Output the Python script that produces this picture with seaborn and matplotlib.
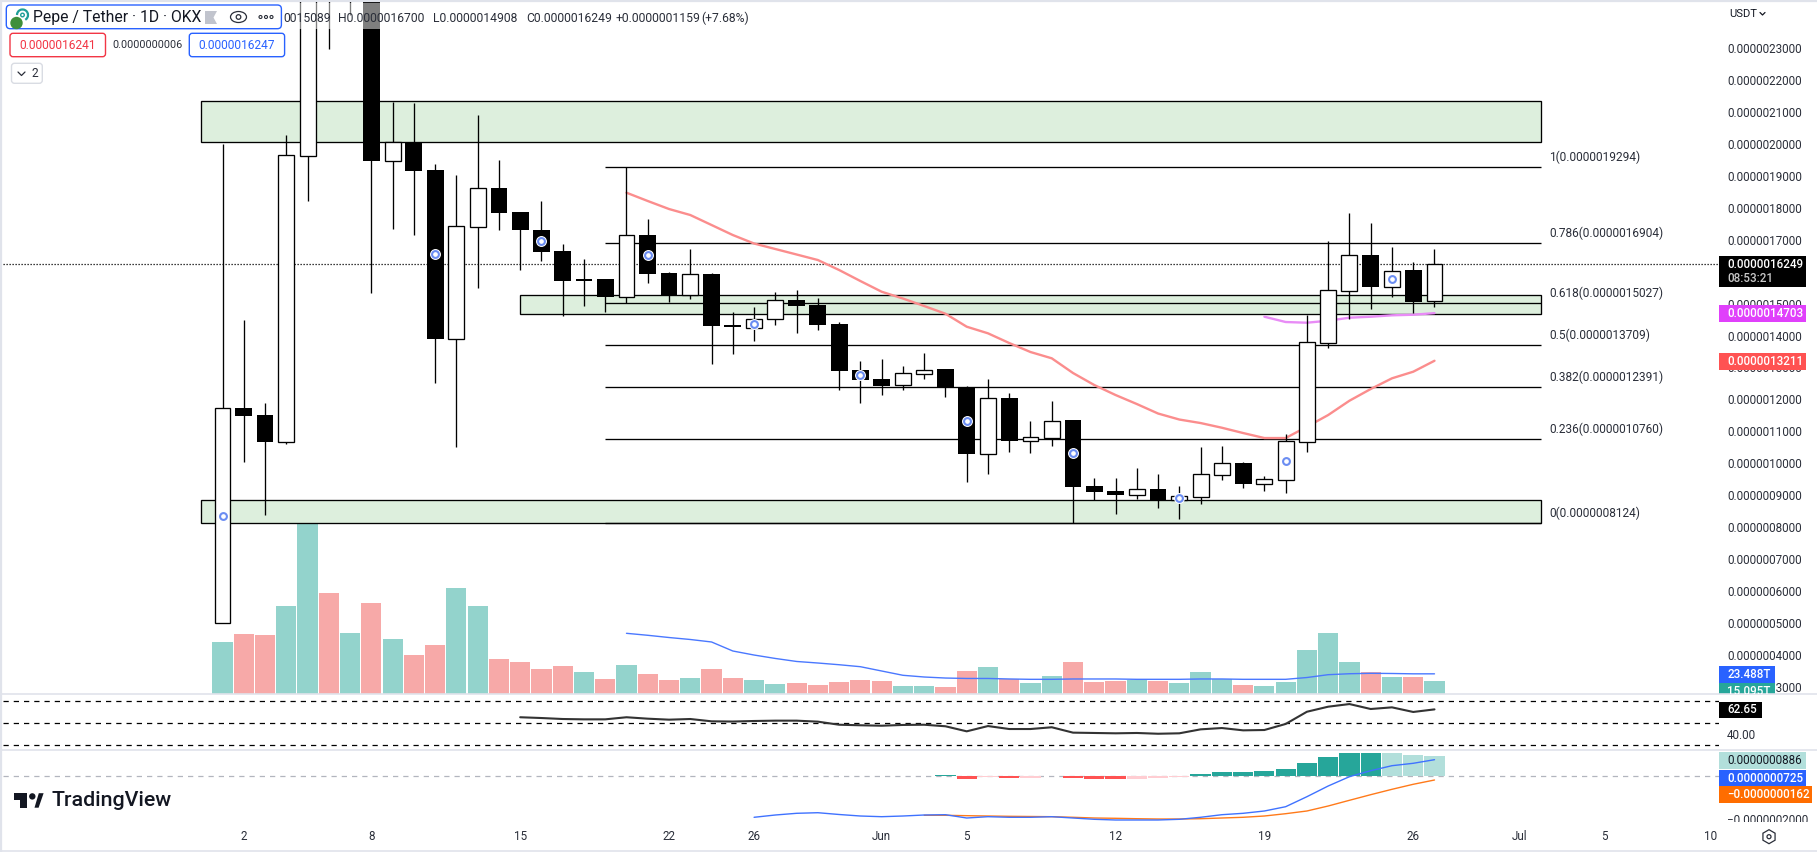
import numpy as np
import pandas as pd
import matplotlib
matplotlib.use("Agg")
import matplotlib.pyplot as plt
from matplotlib.patches import Rectangle, FancyBboxPatch, Circle, Ellipse, Polygon, RegularPolygon, Arc
from matplotlib.transforms import Bbox, TransformedBbox
import seaborn as sns

# ---- data: prices in units of 1e-7 USDT, first candle is 1 May ----
opens = [4.985,11.73,11.51,10.675,19.635,27.0,26.0,29.0,19.478,20.055,19.187,13.902,17.41,18.614,17.862,17.307,16.649,15.772,15.772,15.217,17.15,15.96,15.28,15.929,14.331,14.246,14.509,15.114,14.957,14.362,12.92,12.639,12.442,12.805,12.952,12.379,10.299,12.044,10.706,10.80,11.354,9.287,9.13,9.014,9.193,8.839,8.952,9.641,9.998,9.359,9.484,10.675,13.776,15.405,16.514,15.531,16.054,15.089]
closes = [11.721,11.48,10.665,19.647,25.4,25.5,29.0,19.478,20.055,19.165,13.902,17.423,18.614,17.849,17.307,16.618,15.709,15.709,15.208,17.141,15.929,15.261,15.919,14.30,14.268,14.509,15.105,14.926,14.34,12.899,12.608,12.429,12.817,12.911,12.379,10.299,12.034,10.706,10.812,11.314,9.265,9.099,9.005,9.183,8.839,8.964,9.653,9.998,9.349,9.497,10.687,13.789,15.418,16.514,15.521,16.013,15.051,16.249]
highs = [20.0,14.487,11.887,20.283,26.2,28.0,30.0,30.0,21.327,21.277,19.375,19.03,20.91,19.491,17.862,18.216,16.859,16.399,15.772,19.272,17.652,15.991,16.712,15.97,14.729,14.895,15.365,15.427,15.177,14.415,13.203,13.266,13.046,13.454,12.952,12.42,12.639,12.2,11.323,11.95,11.354,9.537,9.537,9.85,9.663,9.287,10.509,10.54,10.039,9.60,10.916,14.644,16.953,17.84,17.526,16.775,16.305,16.7]
lows = [4.985,10.04,8.378,10.603,18.225,22.978,24.043,15.324,17.348,17.16,12.523,10.518,15.50,17.317,16.063,16.345,14.622,14.935,14.747,15.01,15.647,15.061,15.145,13.109,13.422,13.839,14.331,14.09,14.184,12.294,11.896,12.147,12.304,12.648,12.085,9.421,9.672,10.361,10.33,10.55,8.118,8.839,8.419,8.88,8.597,8.253,8.732,9.475,9.224,9.13,9.067,10.352,13.61,14.519,14.832,15.208,14.707,14.908]

volume_t = [60.6,69.9,68.7,102.5,201.5,117.7,71.1,106,64.1,45.4,57.1,123.5,102.5,40.8,37.3,29.1,32.6,25.6,17.5,33.8,23.3,16.3,18.6,29.1,18.6,16.3,11.7,12.8,10.5,14,16.3,15.1,9.3,9.3,8.2,26.8,31.5,17.5,12.8,21,37.3,14,15.1,16.3,15.1,12.8,25.6,17.5,10.5,9.3,14,51.3,71.1,37.3,25.6,19.8,19.8,15.095]
volume_dir = ["u","d","d","u","u","d","u","d","u","d","d","u","u","d","d","d","d","u","d","u","d","d","u","d","d","u","u","d","d","d","d","d","u","u","d","d","u","d","u","u","d","d","d","u","d","u","u","u","d","u","u","u","u","u","d","u","d","u"]
volume_ma = [70.7,68.4,65.8,63.5,60.6,50.1,45.4,41.4,37.9,36.1,34.1,31.8,26.8,21.8,19.8,18.6,18.1,18.1,17.5,17.1,17.1,17.5,17.5,17.5,17.1,17.1,17.1,17.5,17.5,17.1,17.1,17.1,19.2,22.5,23.6,24.1,23.9,23.5,23.488]

ma_red = [18.476,18.216,17.965,17.777,17.464,17.15,16.884,16.712,16.54,16.367,16.054,15.709,15.374,15.161,14.926,14.685,14.278,14.071,13.767,13.485,13.288,12.827,12.451,12.138,11.856,11.558,11.37,11.26,11.113,10.947,10.79,10.79,11.144,11.511,11.959,12.326,12.661,12.868,13.211]
ma_purple = [14.591,14.425,14.403,14.466,14.56,14.591,14.635,14.653,14.703]

rsi = [55.5,54.8,53.9,53.6,53.6,55.5,54.2,53.3,53.9,51.8,51.6,52.1,52.4,52.4,51.5,48.7,48.2,47.8,48.5,48.7,47.3,42.7,47.5,44.8,44.8,46.4,41.5,41.2,40.9,41.2,40.5,40.9,44.5,45.7,43.6,43.9,49.4,60.5,65.1,67.5,63,64.5,60.3,62.65]
rsi_levels = [70, 50, 30]

macd_hist = [0.015,0.06,-0.116,-0.03,-0.07,-0.07,0.015,-0.07,-0.116,-0.116,-0.116,-0.07,-0.03,0.10,0.19,0.19,0.233,0.32,0.58,0.844,1.02,1.02,1.02,0.93,0.886]
macd_state = ["lt","dk","rd","pk","rd","pk","dk","rd","rd","rd","pk","pk","pk","dk","dk","dk","dk","dk","dk","dk","dk","dk","lt","lt","lt"]
macd_line = [-1.79,-1.69,-1.616,-1.59,-1.668,-1.734,-1.764,-1.734,-1.69,-1.677,-1.821,-1.764,-1.79,-1.79,-1.764,-1.821,-1.878,-1.908,-1.908,-1.908,-1.878,-1.79,-1.677,-1.616,-1.515,-1.328,-0.891,-0.424,-0.017,0.245,0.463,0.568,0.725]
macd_signal = [-1.703,-1.703,-1.72,-1.734,-1.747,-1.755,-1.764,-1.79,-1.821,-1.834,-1.852,-1.865,-1.865,-1.852,-1.821,-1.79,-1.734,-1.633,-1.515,-1.297,-1.048,-0.803,-0.568,-0.349,-0.162]

fib_ratio = ["1","0.786","0.618","0.5","0.382","0.236","0"]
fib_price = [19.294,16.904,15.027,13.709,12.391,10.76,8.124]
zones = [("top",-1,62,20.055,21.34),("mid",14,62,14.666,15.261),("low",-1,62,8.118,8.839)]

price_ticks = list(range(3,24))
time_tick_idx = [1,7,14,21,25,31,35,42,49,56,61,65,70]
time_tick_lab = ["2","8","15","22","26","Jun","5","12","19","26","Jul","5","10"]

W, H = 1817, 852
sns.set_theme(style="white")
plt.rcParams["font.family"] = ["Roboto", "DejaVu Sans"]
INK = "#2a2e39"
FS = 8.35

fig = plt.figure(figsize=(W/100, H/100), dpi=100, facecolor="white")

def axpx(x0, y0, x1, y1, z):
    a = fig.add_axes([x0/W, 1-y1/H, (x1-x0)/W, (y1-y0)/H], zorder=z)
    a.patch.set_alpha(0)
    for s in a.spines.values():
        s.set_visible(False)
    return a

X0, X1 = 3, 1719
xlim = ((X0-222.5)/21.263, (X1-222.5)/21.263)
idx = np.arange(len(opens))
o, c, h, l = map(np.array, (opens, closes, highs, lows))

# volume (under the candles)
axv = axpx(X0, 2, X1, 694, 1)
vdf = pd.DataFrame({"i": idx, "v": volume_t, "d": volume_dir})
sns.barplot(data=vdf, x="i", y="v", hue="d", palette={"u": "#93d3cc", "d": "#f7a9a8"}, dodge=False,
            native_scale=True, width=0.95, saturation=1, legend=False, linewidth=0, ax=axv)
sns.lineplot(x=idx[-len(volume_ma):], y=volume_ma, color="#4a78ff", lw=1.0, ax=axv)
axv.set_xlim(xlim); axv.set_ylim(0, 692*1.165)
axv.set_xticks([]); axv.set_yticks([]); axv.set_xlabel(""); axv.set_ylabel("")

# price
ax = axpx(X0, 2, X1, 694, 2)
for name, x0, x1, lo, hi in zones:
    ax.add_patch(Rectangle((x0, lo), x1-x0, hi-lo, fc="#ddefdd", ec="black", lw=0.95, zorder=1))
ax.hlines(fib_price, 18, 62, color="black", lw=0.95, zorder=1.5)
for r, p in zip(fib_ratio, fib_price):
    ax.annotate(f"{r}({p*1e-7:.10f})", (62.4, p), xytext=(0, 6.9), textcoords="offset points",
                va="center", ha="left", fontsize=8.55, color=INK)
ax.axhline(closes[-1], color="black", lw=0.9, ls=(0, (1, 1.4)), zorder=1.6)
sns.lineplot(x=idx[-len(ma_red):], y=ma_red, color="#fb8d8d", lw=1.7, ax=ax, zorder=2)
sns.lineplot(x=idx[-len(ma_purple):], y=ma_purple, color="#e88cf6", lw=1.7, ax=ax, zorder=2)
ax.vlines(idx, l, h, color="black", lw=0.95, zorder=3)
up = c >= o
dark = ~up
ax.bar(idx[dark], (o-c)[dark], bottom=c[dark], width=0.79, color="black", lw=0, zorder=4)
ax.bar(idx[up], (c-o)[up], bottom=o[up], width=0.75, facecolor="white", edgecolor="black", lw=0.95, zorder=4)
mk = idx[::5][:12]
mid = (o[mk]+c[mk])/2
ax.scatter(mk, mid, s=62, c="white", lw=0, zorder=5)
ax.scatter(mk, mid, s=24, facecolors="white", edgecolors="#6b8df2", lw=1.5, zorder=6)
ax.set_xlim(xlim)
ax.set_ylim(23-(694-48.3)/31.92, 23-(2-48.3)/31.92)
ax.yaxis.tick_right()
ax.set_yticks(price_ticks)
ax.set_yticklabels([f"{p*1e-7:.10f}" for p in price_ticks], fontsize=FS, color=INK)
ax.tick_params(axis="y", length=0, pad=5.8)
ax.set_xticks([])

# RSI
axr = axpx(X0, 694, X1, 750, 2)
for lv in rsi_levels:
    axr.axhline(lv, color="black", lw=0.9, ls=(0, (4.2, 4)))
sns.lineplot(x=idx[-len(rsi):], y=rsi, color="#333333", lw=1.5, ax=axr)
axr.set_xlim(xlim)
axr.set_ylim(50-(750-723.3)/1.1, 50+(723.3-694)/1.1)
axr.yaxis.tick_right()
axr.set_yticks([40]); axr.set_yticklabels(["40.00"], fontsize=FS, color=INK)
axr.tick_params(axis="y", length=0, pad=5.8)
axr.set_xticks([])

# MACD
axm = axpx(X0, 750, X1, 822, 2)
mdf = pd.DataFrame({"i": idx[-len(macd_hist):], "v": macd_hist, "s": macd_state})
axm.axhline(0, color="#b2b5be", lw=0.9, ls=(0, (4.2, 4)), zorder=0.5)
sns.barplot(data=mdf, x="i", y="v", hue="s", dodge=False, native_scale=True, width=0.95, saturation=1,
            palette={"dk": "#26a69a", "lt": "#b2dfdb", "rd": "#ff5252", "pk": "#ffcdd2"},
            legend=False, linewidth=0, ax=axm)
sns.lineplot(x=idx[-len(macd_signal):], y=macd_signal, color="#ff7a1a", lw=1.0, ax=axm)
sns.lineplot(x=idx[-len(macd_line):], y=macd_line, color="#3f72ff", lw=1.0, ax=axm)
axm.set_xlim(xlim)
axm.set_ylim(-(822-776.3)/22.9, (776.3-750)/22.9)
axm.set_xlabel(""); axm.set_ylabel("")
axm.set_yticks([])
axm.set_xticks(time_tick_idx)
axm.set_xticklabels(time_tick_lab, fontsize=FS, color=INK)
axm.tick_params(axis="x", length=0, pad=5.5)

# ---- chrome, in pixel coordinates ----
ov = fig.add_axes([0, 0, 1, 1], zorder=10)
ov.set_xlim(0, W); ov.set_ylim(H, 0); ov.axis("off")

for yy in (694, 750):
    ov.plot([0, W], [yy, yy], color="#e0e3eb", lw=1.2)
ov.plot([0, W], [850.5, 850.5], color="#e0e3eb", lw=1.2)
ov.plot([0, W], [0.8, 0.8], color="#e0e3eb", lw=1.6)
ov.plot([0.8, 0.8], [0, H], color="#e0e3eb", lw=1.6)

def tx(x, y, s, **k):
    k.setdefault("fontsize", FS); k.setdefault("color", INK)
    k.setdefault("va", "center"); k.setdefault("ha", "left")
    return ov.text(x, y, s, **k)

def box(x0, y0, x1, y1, fc="white", ec="none", lw=1.0, r=3, alpha=None):
    ov.add_patch(FancyBboxPatch((x0+r, y0+r), x1-x0-2*r, y1-y0-2*r, boxstyle=f"round,pad={r},rounding_size={r}",
                                fc=fc, ec=ec, lw=lw, alpha=alpha))

# OHLC legend strip
ov.add_patch(Rectangle((281, 3), 470, 26, fc="white", ec="none", alpha=0.5))
for x, s in [(338, "H0.0000016700"), (433.5, "L0.0000014908"), (526.5, "C0.0000016249"),
             (616, "+0.0000001159"), (701, "(+7.68%)")]:
    tx(x, 18.7, s, fontsize=FS+0.35)
tx(283, 18.7, "0015089", fontsize=FS+0.35)

# symbol box
box(6.3, 5, 281.4, 28.7, ec="#2962ff", lw=1.0, r=4)
ov.add_patch(Circle((16.5, 23), 6.2, fc="#3f8f3a", ec="none"))
ov.add_patch(Arc((22.5, 15), 11, 11, theta1=180, theta2=60, color="#1f9e98", lw=1.6))
ov.add_patch(Circle((22.5, 15), 1.8, fc="none", ec="#1f9e98", lw=1))
tx(33, 17.5, "Pepe / Tether · 1D · OKX", fontsize=11.3, color="#131722")
ov.add_patch(Polygon([(205, 11), (217, 11), (213.5, 17.5), (217, 24), (205, 24)], fc="#c1c4cd", ec="none"))
ov.add_patch(Ellipse((238.5, 17), 16, 11, fc="none", ec=INK, lw=0.9))
ov.add_patch(Circle((238.5, 17), 2.3, fc="none", ec=INK, lw=0.9))
for xx in (260.5, 266, 271.5):
    ov.add_patch(Circle((xx, 17), 1.5, fc="none", ec=INK, lw=0.8))

# buy / sell
box(10, 33.3, 105.5, 56.7, ec="#f23645", lw=1.0, r=3)
tx(57.7, 45.5, "0.0000016241", color="#f23645", ha="center", fontsize=FS+0.3)
tx(147.5, 45, "0.0000000006", ha="center", fontsize=FS-0.6)
box(189.3, 33.3, 284.6, 56.7, ec="#2962ff", lw=1.0, r=3)
tx(237, 45.5, "0.0000016247", color="#2962ff", ha="center", fontsize=FS+0.3)
box(11.5, 63.3, 42.3, 83.3, ec="#d9dce3", lw=1.0, r=3)
ov.plot([18, 21.5, 25], [72, 75.5, 72], color=INK, lw=0.9)
tx(31, 73.7, "2", fontsize=FS+0.3)

# USDT menu
tx(1729, 13.7, "USDT", color="#131722", fontsize=FS-0.2)
ov.plot([1760, 1762.5, 1765], [12.5, 15, 12.5], color="#131722", lw=0.9)

# value badges
ov.add_patch(Rectangle((1719, 256), 87, 31, fc="black", ec="none"))
tx(1727, 264.5, "0.0000016249", color="white", fontweight="medium")
tx(1727, 278.7, "08:53:21", color="#c8c8c8", fontweight="medium")
for y0, y1, fc, s in [(305, 321.7, "#e040fb", "0.0000014703"), (353.3, 370, "#ff5252", "0.0000013211")]:
    ov.add_patch(Rectangle((1719, y0), 87, y1-y0, fc=fc, ec="none"))
    tx(1727, (y0+y1)/2, s, color="white", fontweight="medium")
ov.add_patch(Rectangle((1719, 666), 56, 16.7, fc="#2962ff", ec="none"))
tx(1727, 674.5, "23.488T", color="white", fontweight="medium")
ov.add_patch(Rectangle((1719, 683), 56, 11, fc="#26a69a", ec="none"))
t = tx(1727, 691.5, "15.095T", color="white", fontweight="medium")
t.set_clip_box(TransformedBbox(Bbox([[1719, 683], [1775, 694]]), ov.transData)); t.set_clip_on(True)
ov.add_patch(Rectangle((1719, 701.7), 43, 16, fc="black", ec="none"))
tx(1727, 709.7, "62.65", color="white", fontweight="medium")
ov.add_patch(Rectangle((1719, 752.3), 87, 16.7, fc="#b2dfdb", ec="none"))
tx(1727, 760.8, "0.0000000886", color="#131722")
ov.add_patch(Rectangle((1719, 769.5), 87, 16.7, fc="#2962ff", ec="none"))
tx(1727, 778, "0.0000000725", color="white", fontweight="medium")
ov.add_patch(Rectangle((1719, 786.2), 93, 16.7, fc="#ff6d00", ec="none"))
tx(1727, 794.7, "\u22120.0000000162", color="white", fontweight="medium")
t = tx(1727, 821, "\u22120.0000002000")
t.set_clip_box(TransformedBbox(Bbox([[1719, 812], [1817, 822]]), ov.transData)); t.set_clip_on(True)

# settings hexagon
ov.add_patch(RegularPolygon((1769, 836.7), 6, radius=7, fc="none", ec=INK, lw=0.9))
ov.add_patch(Circle((1769, 836.7), 2, fc="none", ec=INK, lw=0.9))

# TradingView logo
LOGO = "#131722"
ov.add_patch(Rectangle((13.8, 793.2), 13.4, 7, fc=LOGO, ec="none"))
ov.add_patch(Rectangle((20.4, 793.2), 6.8, 14.5, fc=LOGO, ec="none"))
ov.add_patch(Circle((32.3, 796.4), 3.2, fc=LOGO, ec="none"))
ov.add_patch(Polygon([(34.5, 807.7), (38.8, 793.2), (43.6, 793.2), (38.6, 807.7)], fc=LOGO, ec="none"))
tx(51, 800.5, "TradingView", color=LOGO, fontsize=15.4, fontweight="medium")

fig.savefig("out.png", dpi=100, facecolor="white")
